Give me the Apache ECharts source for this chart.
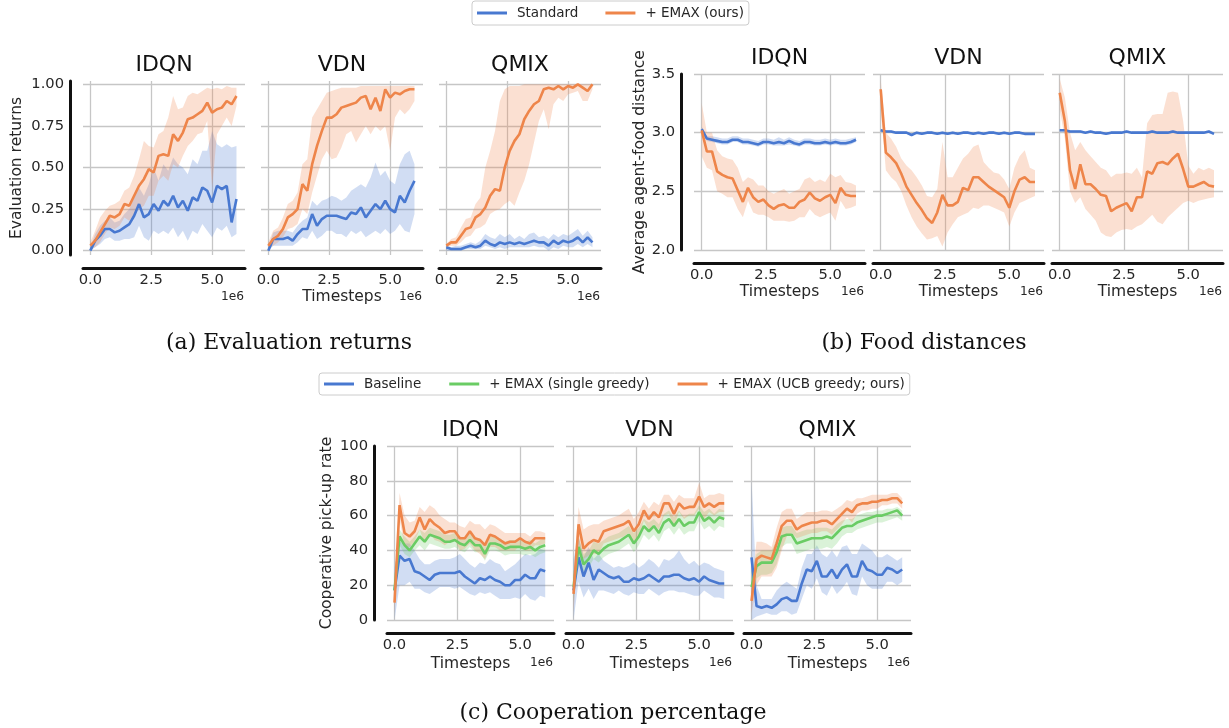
<!DOCTYPE html>
<html><head><meta charset="utf-8">
<script src="https://cdn.jsdelivr.net/npm/echarts@6/dist/echarts.min.js"></script>
<style>html,body{margin:0;padding:0;background:#fff}#c{width:1229px;height:728px}</style>
</head><body><div id="c"></div>
<script>
// ---------- data (timesteps in units of 1e6) ----------
const steps = [0.0,0.2,0.4,0.6,0.8,1.0,1.2,1.4,1.6,1.8,2.0,2.2,2.4,2.6,2.8,3.0,3.2,3.4,3.6,3.8,4.0,4.2,4.4,4.6,4.8,5.0,5.2,5.4,5.6,5.8,6.0];
const xTicks = [0, 2.5, 5];

// (a) Evaluation returns
const retIdqnStd   = [0.00,0.06,0.09,0.13,0.13,0.11,0.12,0.14,0.16,0.21,0.28,0.20,0.22,0.28,0.24,0.30,0.27,0.33,0.26,0.30,0.24,0.32,0.30,0.38,0.36,0.29,0.39,0.37,0.39,0.17,0.31];
const retIdqnStdLo = [0.00,0.02,0.04,0.07,0.08,0.06,0.06,0.07,0.07,0.08,0.15,0.08,0.06,0.12,0.10,0.12,0.10,0.14,0.08,0.12,0.06,0.12,0.10,0.16,0.12,0.08,0.14,0.12,0.15,0.08,0.10];
const retIdqnStdHi = [0.02,0.10,0.15,0.18,0.20,0.17,0.18,0.22,0.25,0.32,0.38,0.33,0.40,0.50,0.42,0.52,0.48,0.56,0.52,0.50,0.46,0.55,0.52,0.60,0.60,0.72,0.64,0.62,0.64,0.62,0.63];
const retIdqnEmax   = [0.03,0.06,0.11,0.16,0.21,0.20,0.22,0.28,0.27,0.33,0.39,0.43,0.49,0.47,0.57,0.58,0.57,0.70,0.66,0.71,0.79,0.80,0.82,0.84,0.89,0.83,0.85,0.86,0.90,0.88,0.93];
const retIdqnEmaxLo = [0.01,0.02,0.05,0.10,0.14,0.13,0.15,0.20,0.18,0.22,0.25,0.27,0.33,0.33,0.42,0.45,0.42,0.52,0.50,0.57,0.63,0.66,0.70,0.71,0.78,0.38,0.70,0.75,0.80,0.75,0.87];
const retIdqnEmaxHi = [0.05,0.12,0.20,0.24,0.27,0.28,0.30,0.36,0.38,0.45,0.55,0.66,0.63,0.62,0.70,0.72,0.80,0.93,0.85,0.86,0.93,0.95,0.94,0.96,0.98,0.97,0.98,0.97,0.99,0.98,0.98];

const retVdnStd   = [0.00,0.07,0.07,0.07,0.08,0.06,0.10,0.13,0.13,0.22,0.15,0.19,0.21,0.21,0.21,0.20,0.19,0.23,0.22,0.26,0.20,0.24,0.28,0.25,0.30,0.25,0.23,0.33,0.29,0.36,0.42];
const retVdnStdLo = [0.00,0.03,0.03,0.03,0.03,0.03,0.05,0.08,0.07,0.12,0.07,0.09,0.12,0.12,0.10,0.10,0.08,0.12,0.10,0.12,0.08,0.10,0.12,0.10,0.13,0.10,0.12,0.16,0.12,0.11,0.22];
const retVdnStdHi = [0.02,0.11,0.12,0.12,0.12,0.11,0.15,0.18,0.20,0.30,0.27,0.30,0.31,0.33,0.32,0.30,0.32,0.36,0.38,0.40,0.38,0.44,0.53,0.45,0.48,0.42,0.40,0.52,0.58,0.60,0.52];
const retVdnEmax   = [0.03,0.07,0.09,0.13,0.20,0.22,0.25,0.40,0.36,0.52,0.63,0.72,0.80,0.80,0.82,0.86,0.87,0.88,0.89,0.92,0.93,0.85,0.92,0.84,0.97,0.92,0.95,0.94,0.96,0.97,0.97];
const retVdnEmaxLo = [0.01,0.03,0.05,0.08,0.13,0.14,0.16,0.25,0.22,0.35,0.45,0.55,0.60,0.55,0.56,0.62,0.70,0.72,0.65,0.70,0.75,0.70,0.75,0.72,0.75,0.60,0.80,0.85,0.82,0.85,0.90];
const retVdnEmaxHi = [0.05,0.12,0.14,0.20,0.28,0.30,0.35,0.52,0.55,0.80,0.85,0.90,0.95,0.96,0.97,0.98,0.98,0.98,0.98,0.99,0.99,0.99,0.99,0.99,0.99,0.99,0.99,0.99,0.99,0.99,0.99];

const retQmixStd   = [0.02,0.01,0.01,0.01,0.02,0.03,0.02,0.03,0.06,0.04,0.03,0.05,0.04,0.05,0.04,0.05,0.04,0.05,0.06,0.05,0.05,0.03,0.06,0.04,0.06,0.05,0.06,0.08,0.05,0.08,0.05];
const retQmixStdLo = [0.00,0.00,0.00,0.00,0.01,0.01,0.01,0.01,0.03,0.02,0.01,0.02,0.01,0.02,0.02,0.02,0.02,0.02,0.03,0.02,0.02,0.00,0.02,0.01,0.03,0.02,0.02,0.04,0.02,0.04,0.02];
const retQmixStdHi = [0.03,0.02,0.03,0.03,0.04,0.05,0.04,0.06,0.10,0.08,0.07,0.10,0.08,0.10,0.07,0.09,0.07,0.10,0.11,0.08,0.09,0.07,0.10,0.08,0.10,0.09,0.11,0.13,0.09,0.12,0.08];
const retQmixEmax   = [0.03,0.05,0.05,0.09,0.13,0.14,0.20,0.22,0.26,0.33,0.37,0.36,0.50,0.60,0.66,0.70,0.79,0.84,0.88,0.90,0.97,0.98,0.97,0.99,0.97,0.99,0.98,1.00,0.98,0.96,1.00];
const retQmixEmaxLo = [0.02,0.03,0.03,0.05,0.08,0.09,0.13,0.14,0.16,0.22,0.24,0.25,0.28,0.30,0.27,0.35,0.42,0.52,0.65,0.78,0.85,0.73,0.88,0.92,0.90,0.94,0.95,0.96,0.90,0.90,0.97];
const retQmixEmaxHi = [0.04,0.07,0.08,0.14,0.19,0.20,0.28,0.32,0.50,0.60,0.72,0.90,0.97,0.99,0.99,0.99,1.00,1.00,1.00,1.00,1.00,1.00,1.00,1.00,1.00,1.00,1.00,1.00,1.00,1.00,1.00];

// (b) Food distances
const distIdqnStd   = [3.03,2.95,2.94,2.93,2.92,2.92,2.94,2.94,2.92,2.92,2.91,2.90,2.92,2.92,2.91,2.92,2.91,2.93,2.91,2.90,2.92,2.92,2.91,2.91,2.92,2.91,2.92,2.91,2.91,2.92,2.94];
const distIdqnStdLo = [3.01,2.93,2.92,2.91,2.90,2.90,2.92,2.92,2.90,2.90,2.89,2.88,2.90,2.90,2.89,2.89,2.89,2.90,2.89,2.88,2.90,2.90,2.89,2.89,2.90,2.89,2.90,2.89,2.89,2.90,2.92];
const distIdqnStdHi = [3.05,2.97,2.97,2.96,2.95,2.95,2.97,2.97,2.95,2.95,2.94,2.93,2.95,2.95,2.94,2.96,2.94,2.96,2.94,2.93,2.95,2.95,2.94,2.94,2.95,2.94,2.95,2.94,2.94,2.95,2.96];
const distIdqnEmax   = [3.02,2.84,2.84,2.67,2.64,2.62,2.61,2.51,2.41,2.53,2.45,2.41,2.43,2.38,2.35,2.38,2.39,2.36,2.36,2.41,2.43,2.49,2.44,2.42,2.45,2.47,2.40,2.53,2.47,2.46,2.46];
const distIdqnEmaxLo = [2.80,2.70,2.68,2.50,2.48,2.45,2.45,2.35,2.28,2.42,2.32,2.30,2.30,2.28,2.25,2.25,2.25,2.24,2.25,2.28,2.28,2.35,2.30,2.28,2.30,2.32,2.25,2.42,2.35,2.36,2.38];
const distIdqnEmaxHi = [3.25,3.00,3.00,2.85,2.80,2.78,2.77,2.70,2.58,2.62,2.60,2.55,2.55,2.50,2.48,2.50,2.52,2.48,2.50,2.52,2.60,2.62,2.58,2.60,2.58,2.65,2.62,2.64,2.58,2.57,2.55];

const distVdnStd   = [3.02,3.01,3.01,3.00,3.00,3.00,2.98,3.00,2.99,3.00,3.00,2.99,3.00,2.99,3.00,2.99,3.00,3.00,2.99,3.00,2.99,3.00,3.00,2.99,3.00,2.99,3.00,3.00,2.99,2.99,2.99];
const distVdnStdLo = [3.01,3.00,3.00,2.99,2.99,2.99,2.97,2.99,2.98,2.99,2.99,2.98,2.99,2.98,2.99,2.98,2.99,2.99,2.98,2.99,2.98,2.99,2.99,2.98,2.99,2.98,2.99,2.99,2.98,2.98,2.98];
const distVdnStdHi = [3.03,3.02,3.02,3.01,3.01,3.01,2.99,3.01,3.00,3.01,3.01,3.00,3.01,3.00,3.01,3.00,3.01,3.01,3.00,3.01,3.00,3.01,3.01,3.00,3.01,3.00,3.01,3.01,3.00,3.00,3.00];
const distVdnEmax   = [3.37,2.83,2.79,2.74,2.65,2.54,2.47,2.40,2.34,2.27,2.23,2.32,2.47,2.38,2.38,2.41,2.53,2.51,2.62,2.62,2.58,2.54,2.51,2.48,2.45,2.36,2.50,2.60,2.62,2.58,2.58];
const distVdnEmaxLo = [3.20,2.68,2.62,2.58,2.50,2.38,2.28,2.20,2.14,2.09,2.10,2.12,2.03,2.15,2.22,2.28,2.30,2.32,2.36,2.35,2.38,2.38,2.36,2.34,2.32,2.20,2.32,2.40,2.42,2.44,2.46];
const distVdnEmaxHi = [3.45,3.00,2.95,2.88,2.78,2.72,2.68,2.62,2.55,2.46,2.45,2.52,2.92,2.62,2.62,2.70,2.78,2.82,2.88,2.90,2.75,2.70,2.66,2.65,2.60,2.52,2.70,2.80,2.85,2.70,2.68];

const distQmixStd   = [3.02,3.02,3.01,3.01,3.01,3.00,3.01,3.00,3.00,2.99,3.00,3.00,3.00,3.01,3.00,3.00,3.00,3.00,3.01,3.00,3.00,3.00,3.01,3.00,3.00,3.00,3.00,3.00,3.00,3.01,2.99];
const distQmixStdLo = [3.01,3.01,3.00,3.00,3.00,2.99,3.00,2.99,2.99,2.98,2.99,2.99,2.99,3.00,2.99,2.99,2.99,2.99,3.00,2.99,2.99,2.99,3.00,2.99,2.99,2.99,2.99,2.99,2.99,3.00,2.98];
const distQmixStdHi = [3.03,3.03,3.02,3.02,3.02,3.01,3.02,3.01,3.01,3.00,3.01,3.01,3.01,3.02,3.01,3.01,3.01,3.01,3.02,3.01,3.01,3.01,3.02,3.01,3.01,3.01,3.01,3.01,3.01,3.02,3.00];
const distQmixEmax   = [3.34,3.10,2.68,2.52,2.73,2.56,2.56,2.52,2.47,2.46,2.33,2.36,2.38,2.40,2.33,2.45,2.45,2.67,2.65,2.74,2.75,2.73,2.78,2.82,2.69,2.54,2.54,2.56,2.58,2.55,2.54];
const distQmixEmaxLo = [3.20,2.95,2.50,2.40,2.45,2.35,2.30,2.25,2.15,2.12,2.11,2.15,2.17,2.18,2.17,2.20,2.22,2.26,2.30,2.24,2.22,2.28,2.32,2.36,2.40,2.42,2.40,2.42,2.43,2.44,2.45];
const distQmixEmaxHi = [3.46,3.30,3.00,2.85,2.92,2.85,2.80,2.75,2.70,2.68,2.62,2.65,2.65,2.66,2.65,2.70,2.62,3.08,3.15,3.16,3.16,3.34,3.35,3.34,3.10,2.72,2.65,2.70,2.68,2.70,2.68];

// (c) Cooperation percentage
const coopIdqnBase   = [17,37,34,35,28,27,25,23,26,27,27,27,27,28,25,23,21,24,23,25,23,22,20,20,23,23,26,24,24,29,28];
const coopIdqnBaseLo = [0,20,20,22,18,18,16,15,17,19,19,19,18,19,17,15,14,16,15,16,14,12,12,12,13,12,15,12,11,14,13];
const coopIdqnBaseHi = [30,45,44,44,40,35,32,32,34,35,35,35,36,38,35,32,30,33,32,35,33,32,28,30,32,35,38,37,38,41,40];
const coopIdqnSingle   = [17,48,43,40,44,48,45,49,48,47,45,45,46,44,43,46,43,43,38,44,44,43,41,42,42,42,41,42,40,42,43];
const coopIdqnSingleLo = [12,43,38,36,40,43,40,44,43,42,41,41,42,40,39,42,39,39,34,40,40,39,37,38,38,38,37,38,36,38,39];
const coopIdqnSingleHi = [22,52,48,45,48,52,50,53,52,51,49,49,50,48,47,50,47,47,43,48,48,47,45,46,46,46,45,46,44,46,47];
const coopIdqnUcb   = [10,66,50,48,51,59,52,58,55,53,50,51,51,47,47,51,47,46,43,49,48,46,44,45,45,47,45,44,47,47,47];
const coopIdqnUcbLo = [4,58,42,42,45,52,44,50,46,45,43,45,46,40,41,44,40,38,35,42,42,40,40,40,40,43,40,40,43,43,44];
const coopIdqnUcbHi = [18,73,60,56,57,65,62,66,64,60,58,56,56,54,53,57,55,55,52,55,54,52,50,50,50,50,50,48,51,51,50];

const coopVdnBase   = [17,36,25,33,23,29,27,25,24,25,22,22,24,23,24,26,24,22,25,25,26,26,24,23,24,22,25,23,22,21,21];
const coopVdnBaseLo = [0,22,13,18,12,17,17,16,15,17,15,14,16,15,15,18,16,14,16,17,17,16,16,15,14,14,17,15,13,13,12];
const coopVdnBaseHi = [35,48,36,42,35,38,34,32,30,31,30,31,33,30,32,35,33,30,35,34,36,40,35,32,34,31,33,32,30,29,28];
const coopVdnSingle   = [19,42,32,35,40,38,41,43,44,45,47,49,44,48,54,51,54,50,56,58,54,58,54,56,56,62,57,59,56,59,58];
const coopVdnSingleLo = [10,36,27,30,35,33,36,38,39,40,42,44,39,43,49,46,49,45,51,53,49,53,49,51,51,57,52,54,51,54,53];
const coopVdnSingleHi = [28,48,38,40,45,44,46,48,49,50,52,54,50,53,58,56,58,55,61,63,59,63,59,61,61,66,62,64,61,64,63];
const coopVdnUcb   = [15,55,41,44,46,45,51,52,53,54,55,57,51,55,63,58,62,59,67,67,61,67,64,65,65,71,65,67,65,67,67];
const coopVdnUcbLo = [5,44,35,37,38,38,44,45,46,47,48,50,44,48,57,52,55,52,60,61,54,62,58,60,60,64,58,62,60,62,62];
const coopVdnUcbHi = [25,65,52,54,55,55,57,58,59,60,62,64,58,62,68,64,68,66,72,72,68,72,70,70,70,79,70,72,72,73,72];

const coopQmixBase   = [36,8,7,8,7,9,12,13,11,11,21,29,28,34,25,25,29,24,29,32,25,25,34,29,28,26,26,30,29,27,29];
const coopQmixBaseLo = [0,2,3,4,3,3,5,5,3,4,12,20,18,24,16,14,20,15,18,22,15,14,25,20,18,18,18,22,22,20,22];
const coopQmixBaseHi = [80,20,12,12,12,17,20,22,20,18,30,38,38,43,38,36,40,36,42,43,38,38,44,42,40,36,36,38,36,34,36];
const coopQmixSingle   = [19,31,33,33,33,39,48,49,49,44,45,46,47,47,47,48,47,50,53,54,54,56,57,58,59,60,60,61,62,63,60];
const coopQmixSingleLo = [10,24,26,26,27,32,42,44,44,38,39,40,41,41,41,42,41,44,48,50,50,52,53,54,55,56,56,57,58,59,57];
const coopQmixSingleHi = [28,38,40,40,40,46,53,54,54,50,51,52,52,53,53,53,52,55,57,58,58,60,61,62,62,63,63,64,64,65,63];
const coopQmixUcb   = [11,35,37,36,35,44,54,57,57,52,54,55,56,56,57,57,55,58,61,64,62,66,67,67,68,68,69,69,70,70,67];
const coopQmixUcbLo = [4,20,25,25,25,30,40,48,50,47,48,49,50,50,51,51,49,52,55,59,56,61,63,63,64,64,66,66,67,67,64];
const coopQmixUcbHi = [20,45,45,44,42,53,62,64,64,58,60,62,62,62,63,63,62,64,66,69,68,70,70,71,72,72,72,72,73,73,70];

const retTicks = [0, 0.25, 0.5, 0.75, 1.0];
const distTicks = [2.0, 2.5, 3.0, 3.5];
const coopTicks = [0, 20, 40, 60, 80, 100];

// ---------- style ----------
const FONT = 'DejaVu Sans';
const TEXT = '#262626';
const SPINE = '#111111';
const GRIDC = '#c6c6c6';
const BLUE = '#4878d0', ORANGE = '#ee854a', GREEN = '#6acc64';
const fade = {};
fade[BLUE] = 'rgba(72,120,208,0.25)';
fade[ORANGE] = 'rgba(238,133,74,0.25)';
fade[GREEN] = 'rgba(106,204,100,0.25)';

const rowA = {top:81, height:174, ymin:-0.026, ymax:1.02, ticks:retTicks, dec:2, yname:'Evaluation returns', yGap:45, titleY:65, nameGap:21, e6Y:297};
const rowB = {top:74, height:176, ymin:2.0, ymax:3.5, ticks:distTicks, dec:1, yname:'Average agent-food distance', yGap:33, titleY:58, nameGap:21, e6Y:292};
const rowC = {top:446, height:174, ymin:0, ymax:100, ticks:coopTicks, dec:0, yname:'Cooperative pick-up rate', yGap:39, titleY:430, nameGap:23, e6Y:663};

const panels = [
  {row:rowA, left:83,  width:162, title:'IDQN', showY:true,  xname:false, lines:[
    ['Standard', BLUE, retIdqnStd, retIdqnStdLo, retIdqnStdHi], ['+ EMAX (ours)', ORANGE, retIdqnEmax, retIdqnEmaxLo, retIdqnEmaxHi]]},
  {row:rowA, left:261, width:162, title:'VDN', showY:false, xname:true, lines:[
    ['Standard', BLUE, retVdnStd, retVdnStdLo, retVdnStdHi], ['+ EMAX (ours)', ORANGE, retVdnEmax, retVdnEmaxLo, retVdnEmaxHi]]},
  {row:rowA, left:439, width:162, title:'QMIX', showY:false, xname:false, lines:[
    ['Standard', BLUE, retQmixStd, retQmixStdLo, retQmixStdHi], ['+ EMAX (ours)', ORANGE, retQmixEmax, retQmixEmaxLo, retQmixEmaxHi]]},
  {row:rowB, left:694, width:171, title:'IDQN', showY:true, xname:true, lines:[
    ['Standard', BLUE, distIdqnStd, distIdqnStdLo, distIdqnStdHi], ['+ EMAX (ours)', ORANGE, distIdqnEmax, distIdqnEmaxLo, distIdqnEmaxHi]]},
  {row:rowB, left:873, width:171, title:'VDN', showY:false, xname:true, lines:[
    ['Standard', BLUE, distVdnStd, distVdnStdLo, distVdnStdHi], ['+ EMAX (ours)', ORANGE, distVdnEmax, distVdnEmaxLo, distVdnEmaxHi]]},
  {row:rowB, left:1052, width:171, title:'QMIX', showY:false, xname:true, lines:[
    ['Standard', BLUE, distQmixStd, distQmixStdLo, distQmixStdHi], ['+ EMAX (ours)', ORANGE, distQmixEmax, distQmixEmaxLo, distQmixEmaxHi]]},
  {row:rowC, left:387, width:167, title:'IDQN', showY:true, xname:true, lines:[
    ['Baseline', BLUE, coopIdqnBase, coopIdqnBaseLo, coopIdqnBaseHi], ['+ EMAX (single greedy)', GREEN, coopIdqnSingle, coopIdqnSingleLo, coopIdqnSingleHi], ['+ EMAX (UCB greedy; ours)', ORANGE, coopIdqnUcb, coopIdqnUcbLo, coopIdqnUcbHi]]},
  {row:rowC, left:566, width:167, title:'VDN', showY:false, xname:true, lines:[
    ['Baseline', BLUE, coopVdnBase, coopVdnBaseLo, coopVdnBaseHi], ['+ EMAX (single greedy)', GREEN, coopVdnSingle, coopVdnSingleLo, coopVdnSingleHi], ['+ EMAX (UCB greedy; ours)', ORANGE, coopVdnUcb, coopVdnUcbLo, coopVdnUcbHi]]},
  {row:rowC, left:744, width:167, title:'QMIX', showY:false, xname:true, lines:[
    ['Baseline', BLUE, coopQmixBase, coopQmixBaseLo, coopQmixBaseHi], ['+ EMAX (single greedy)', GREEN, coopQmixSingle, coopQmixSingleLo, coopQmixSingleHi], ['+ EMAX (UCB greedy; ours)', ORANGE, coopQmixUcb, coopQmixUcbLo, coopQmixUcbHi]]}
];

const grids = [], xAxes = [], yAxes = [], series = [], graphics = [];
const lbl = {fontFamily:FONT, fontSize:14.7, color:TEXT};

panels.forEach((p, i) => {
  const r = p.row;
  grids.push({left:p.left, top:r.top, width:p.width, height:r.height, containLabel:false});
  xAxes.push({
    type:'value', gridIndex:i, min:-0.3, max:6.35, offset:13,
    axisLine:{show:true, onZero:false, lineStyle:{color:SPINE, width:3}},
    axisTick:{show:false, customValues:xTicks},
    axisLabel:Object.assign({customValues:xTicks, margin:5, formatter:v => v.toFixed(1)}, lbl),
    splitLine:{show:true, lineStyle:{color:GRIDC, width:1.3}},
    name: p.xname ? 'Timesteps' : '', nameLocation:'middle', nameGap:r.nameGap,
    nameTextStyle:{fontFamily:FONT, fontSize:15.5, color:TEXT}
  });
  yAxes.push({
    type:'value', gridIndex:i, min:r.ymin, max:r.ymax, offset:13,
    axisLine:{show:p.showY, onZero:false, lineStyle:{color:SPINE, width:3}},
    axisTick:{show:false, customValues:r.ticks},
    axisLabel:Object.assign({show:p.showY, customValues:r.ticks, margin:6, formatter:v => v.toFixed(r.dec)}, lbl),
    splitLine:{show:true, lineStyle:{color:GRIDC, width:1.3}},
    name: p.showY ? r.yname : '', nameLocation:'middle', nameGap:r.yGap, nameRotate:90,
    nameTextStyle:{fontFamily:FONT, fontSize:15.5, color:TEXT}
  });
  p.lines.forEach(([name, color, ys, lo, hi]) => {
    series.push({
      type:'custom', xAxisIndex:i, yAxisIndex:i, silent:true, clip:true,
      data: steps.map((x, k) => [x, lo[k], hi[k]]),
      encode:{x:0, y:[1, 2]},
      renderItem: (params, api) => {
        if (params.dataIndex !== 0) return null;
        const pts = [];
        for (let k = 0; k < steps.length; k++) pts.push(api.coord([steps[k], hi[k]]));
        for (let k = steps.length - 1; k >= 0; k--) pts.push(api.coord([steps[k], lo[k]]));
        return {type:'polygon', shape:{points:pts}, style:{fill:fade[color], stroke:null}};
      }
    });
    series.push({
      type:'line', name, xAxisIndex:i, yAxisIndex:i,
      data: steps.map((x, k) => [x, ys[k]]),
      showSymbol:false, symbol:'none', smooth:false,
      lineStyle:{color, width:2.6}, itemStyle:{color},
      emphasis:{disabled:true}
    });
  });
  // panel title and offset text
  graphics.push({type:'text', silent:true, style:{text:p.title, x:p.left + p.width/2, y:r.titleY,
    textAlign:'center', textVerticalAlign:'middle', font:'22px "DejaVu Sans"', fill:'#111'}});
  graphics.push({type:'text', silent:true, style:{text:'1e6', x:p.left + p.width - 1, y:r.e6Y,
    textAlign:'right', textVerticalAlign:'middle', font:'12.2px "DejaVu Sans"', fill:TEXT}});
});

const capFont = '22px "DejaVu Serif"';
[['(a) Evaluation returns', 289, 343], ['(b) Food distances', 924, 343], ['(c) Cooperation percentage', 613, 713]]
  .forEach(([t, x, y]) => graphics.push({type:'text', silent:true, style:{text:t, x, y,
    textAlign:'center', textVerticalAlign:'middle', font:capFont, fill:'#111'}}));

const legendBase = {
  orient:'horizontal', icon:'rect', itemWidth:30, itemHeight:3,
  borderColor:'#cccccc', borderWidth:1, borderRadius:3, backgroundColor:'#fff',
  textStyle:{fontFamily:FONT, fontSize:13.5, color:TEXT, padding:[0,0,0,5]},
  selectedMode:false
};

const option = {
  animation:false,
  backgroundColor:'#ffffff',
  grid:grids, xAxis:xAxes, yAxis:yAxes, series,
  legend:[
    Object.assign({}, legendBase, {left:472, top:1, padding:[5,5,5,5], itemGap:27,
      data:['Standard', '+ EMAX (ours)']}),
    Object.assign({}, legendBase, {left:319, top:373, padding:[4,5,4,5], itemGap:28,
      data:['Baseline', '+ EMAX (single greedy)', '+ EMAX (UCB greedy; ours)']})
  ],
  graphic:graphics
};

const chart = echarts.init(document.getElementById('c'), null, {renderer:'canvas'});
chart.setOption(option);
</script></body></html>
